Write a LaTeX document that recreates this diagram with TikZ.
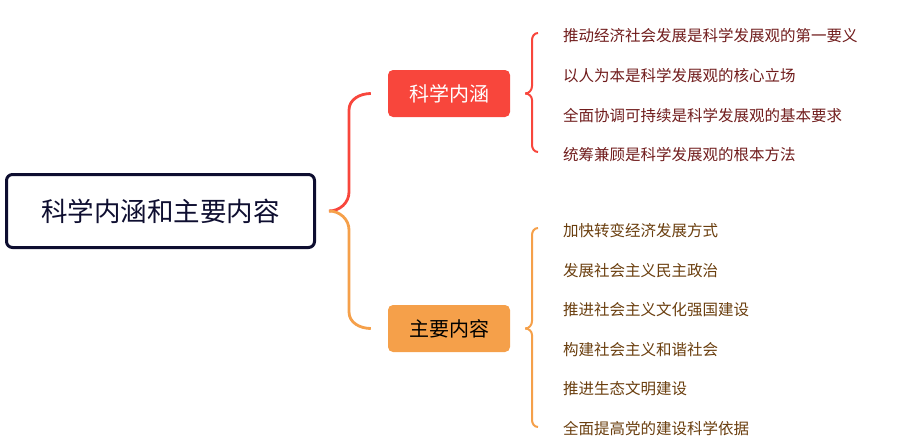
\documentclass[tikz,border=0pt]{standalone}
\usepackage{fontspec}
\newfontfamily\cjk{Noto Sans CJK SC}
\usetikzlibrary{positioning}

\definecolor{rootline}{HTML}{0E0E30}
\definecolor{redbr}{HTML}{F8463C}
\definecolor{orgbr}{HTML}{F5A04A}
\definecolor{redtxt}{HTML}{701C1C}
\definecolor{orgtxt}{HTML}{6A3E0E}

\tikzset{
    rootbox/.style={draw=rootline, line width=3pt, rounded corners=6pt,
        minimum width=308pt, minimum height=73pt, text=rootline,
        font=\cjk\fontsize{26.5}{30}\selectfont},
    branchbox/.style={rounded corners=5pt, minimum width=122pt, minimum height=47pt,
        font=\cjk\fontsize{20}{24}\selectfont},
    leaf/.style={anchor=west, inner sep=0pt, font=\cjk\fontsize{15.5}{18}\selectfont},
}

\begin{document}
\begin{tikzpicture}[x=1pt, y=-1pt]
    \useasboundingbox (0,0) rectangle (914,447);

    \node[rootbox] (root) at (160.5,211) {科学内涵和主要内容};
    \node[branchbox, fill=redbr, text=white] (meaning) at (449,93.5) {科学内涵};
    \node[branchbox, fill=orgbr, text=black] (content) at (449,328.5) {主要内容};

    \coordinate[right=13pt of root] (hub);
    \coordinate[left=17pt of meaning] (meaningin);
    \coordinate[left=17pt of content] (contentin);
    \coordinate[right=15pt of meaning] (mtip);
    \coordinate[right=15pt of content] (ctip);

    % main brace
    \draw[redbr, line width=2.8pt] (hub) to[out=0,in=-90] (349,192) -- (349,110)
        to[out=90,in=180] (meaningin);
    \draw[orgbr, line width=2.8pt] (hub) to[out=0,in=90] (349,230) -- (349,312)
        to[out=-90,in=180] (contentin);

    % leaves
    \node[leaf, text=redtxt] (m1) at (563,35.5) {推动经济社会发展是科学发展观的第一要义};
    \node[leaf, text=redtxt] (m2) at (563,75.5) {以人为本是科学发展观的核心立场};
    \node[leaf, text=redtxt] (m3) at (563,115.5) {全面协调可持续是科学发展观的基本要求};
    \node[leaf, text=redtxt] (m4) at (563,154.5) {统筹兼顾是科学发展观的根本方法};

    \node[leaf, text=orgtxt] (c1) at (563,230.5) {加快转变经济发展方式};
    \node[leaf, text=orgtxt] (c2) at (563,270.5) {发展社会主义民主政治};
    \node[leaf, text=orgtxt] (c3) at (563,309.5) {推进社会主义文化强国建设};
    \node[leaf, text=orgtxt] (c4) at (563,349.5) {构建社会主义和谐社会};
    \node[leaf, text=orgtxt] (c5) at (563,388.5) {推进生态文明建设};
    \node[leaf, text=orgtxt] (c6) at (563,428.5) {全面提高党的建设科学依据};

    % leaf braces
    \draw[redbr, line width=2pt] (mtip) to[out=0,in=-90] (532,86) -- (532,40)
        to[out=90,in=180] (538,33);
    \draw[redbr, line width=2pt] (mtip) to[out=0,in=90] (532,100) -- (532,145)
        to[out=-90,in=180] (538,152);
    \draw[orgbr, line width=2pt] (ctip) to[out=0,in=-90] (532,321) -- (532,235)
        to[out=90,in=180] (538,228);
    \draw[orgbr, line width=2pt] (ctip) to[out=0,in=90] (532,335) -- (532,420)
        to[out=-90,in=180] (538,427);
\end{tikzpicture}
\end{document}
